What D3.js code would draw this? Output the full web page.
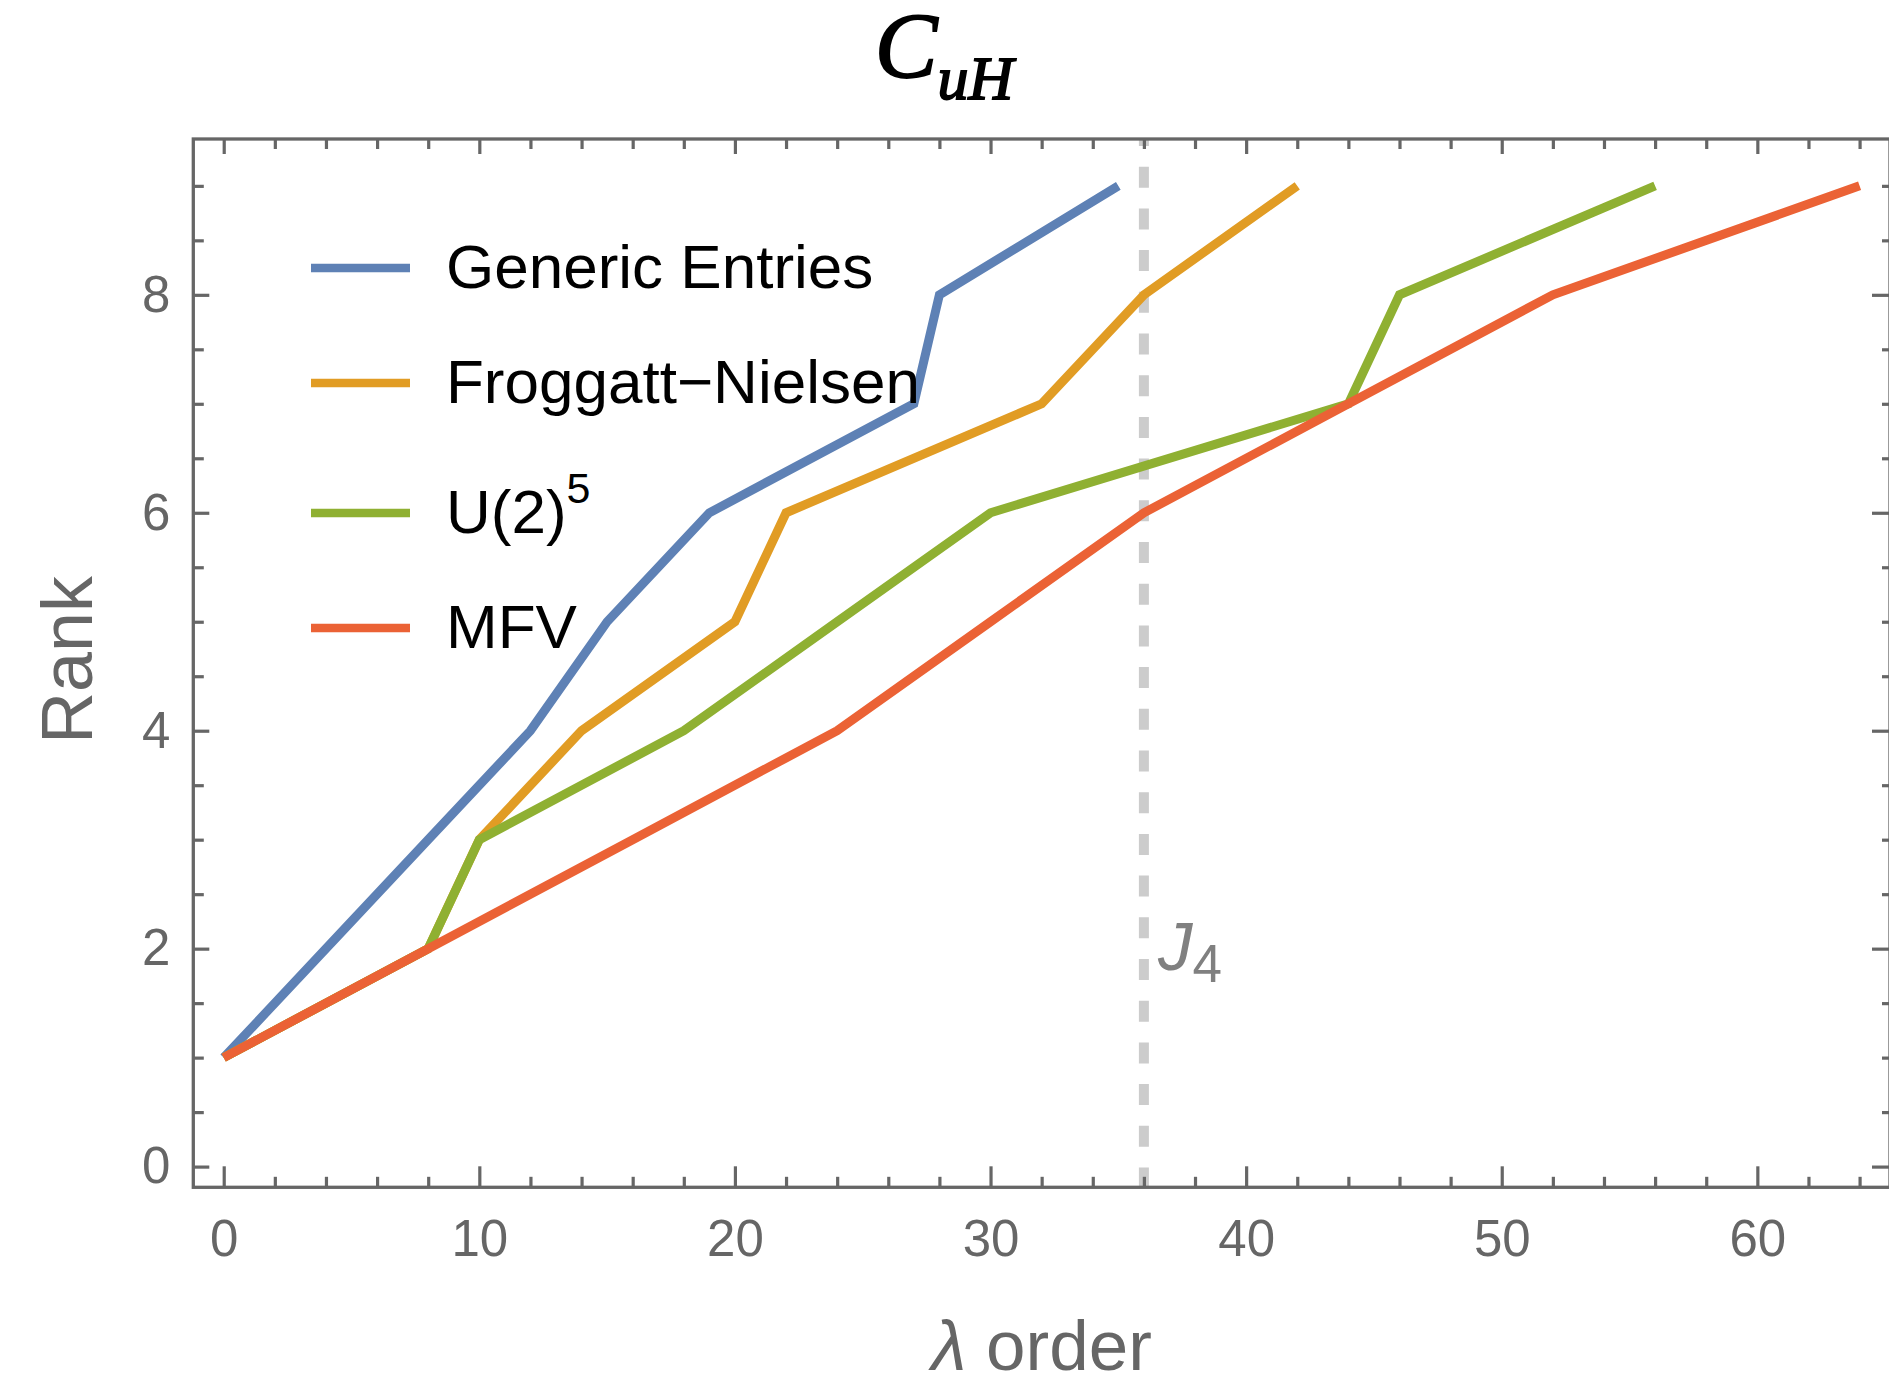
<!DOCTYPE html>
<html>
<head>
<meta charset="utf-8">
<script src="https://cdn.jsdelivr.net/npm/d3@7"></script>
<style>
  html, body { margin: 0; padding: 0; background: #fff; }
  svg { display: block; }
  text { font-family: "Liberation Sans", Arial, Helvetica, sans-serif; }
</style>
</head>
<body>
<svg id="chart" width="1889" height="1376"></svg>
<script>
// ---- data ----
const seriesNames = ["Generic Entries", "Froggatt\u2212Nielsen", "U(2)", "MFV"];
const seriesSup = ["", "", "5", ""];
const seriesColors = ["#5e81b5", "#e19c24", "#8fb032", "#eb6235"];
const ranks = [1, 2, 3, 4, 5, 6, 7, 8, 9];
const genericX = [0, 4, 8, 12, 15, 19, 27, 28, 35];
const froggattX = [0, 8, 10, 14, 20, 22, 32, 36, 42];
const u2X = [0, 8, 10, 18, 24, 30, 44, 46, 56];
const mfvX = [0, 8, 16, 24, 30, 36, 44, 52, 64];
const j4X = 36;
const xMajorTicks = [0, 10, 20, 30, 40, 50, 60];
const xMinorTicks = [2, 4, 6, 8, 12, 14, 16, 18, 22, 24, 26, 28, 32, 34, 36, 38, 42, 44, 46, 48, 52, 54, 56, 58, 62, 64];
const yMajorTicks = [0, 2, 4, 6, 8];
const yMinorTicks = [0.5, 1, 1.5, 2.5, 3, 3.5, 4.5, 5, 5.5, 6.5, 7, 7.5, 8.5, 9];

const seriesX = [genericX, froggattX, u2X, mfvX];

// ---- layout ----
const L = 193.3, R = 1890, T = 139, B = 1187.3;
const frameColor = "#666666";
const svg = d3.select("#chart");

const x = d3.scaleLinear().domain([-1.19, 65.19]).range([L, R]);
const y = d3.scaleLinear().domain([-0.19, 9.43]).range([B, T]);

svg.append("defs").append("clipPath").attr("id", "clip")
  .append("rect").attr("x", L).attr("y", T).attr("width", R - L).attr("height", B - T);

const plot = svg.append("g").attr("clip-path", "url(#clip)");

// J4 dashed line
plot.append("line")
  .attr("x1", x(j4X)).attr("x2", x(j4X))
  .attr("y1", T).attr("y2", B)
  .attr("stroke", "#cccccc").attr("stroke-width", 10)
  .attr("stroke-dasharray", "21 20.7").attr("stroke-dashoffset", 14);

const line = d3.line().x(d => x(d[0])).y(d => y(d[1]));
seriesX.forEach((xs, i) => {
  const pts = xs.map((v, k) => [v, ranks[k]]);
  plot.append("path")
    .attr("d", line(pts))
    .attr("fill", "none")
    .attr("stroke", seriesColors[i])
    .attr("stroke-width", 9)
    .attr("stroke-linejoin", "miter")
    .attr("stroke-linecap", "butt");
});

// ---- axes / frame ----
function styleAxis(g) {
  g.select(".domain").remove();
  g.selectAll(".tick line").attr("stroke", frameColor).attr("stroke-width", 3.2);
  g.selectAll(".tick text").attr("fill", frameColor)
    .style("font-family", '"Liberation Sans", Arial, Helvetica, sans-serif')
    .style("font-size", "51px");
}

// bottom
svg.append("g").attr("transform", `translate(0,${B})`)
  .call(d3.axisBottom(x).tickValues(xMinorTicks).tickSize(-10.5).tickFormat(""))
  .call(styleAxis);
svg.append("g").attr("transform", `translate(0,${B})`)
  .call(d3.axisBottom(x).tickValues(xMajorTicks).tickSize(-21).tickPadding(32).tickFormat(d3.format("d")))
  .call(styleAxis);
// top
svg.append("g").attr("transform", `translate(0,${T})`)
  .call(d3.axisTop(x).tickValues(xMinorTicks).tickSize(-10).tickFormat(""))
  .call(styleAxis);
svg.append("g").attr("transform", `translate(0,${T})`)
  .call(d3.axisTop(x).tickValues(xMajorTicks).tickSize(-15).tickFormat(""))
  .call(styleAxis);
// left
svg.append("g").attr("transform", `translate(${L},0)`)
  .call(d3.axisLeft(y).tickValues(yMinorTicks).tickSize(-10.5).tickFormat(""))
  .call(styleAxis);
svg.append("g").attr("transform", `translate(${L},0)`)
  .call(d3.axisLeft(y).tickValues(yMajorTicks).tickSize(-16).tickPadding(23).tickFormat(d3.format("d")))
  .call(styleAxis);
// right
svg.append("g").attr("transform", `translate(${R},0)`)
  .call(d3.axisRight(y).tickValues(yMinorTicks).tickSize(-8).tickFormat(""))
  .call(styleAxis);
svg.append("g").attr("transform", `translate(${R},0)`)
  .call(d3.axisRight(y).tickValues(yMajorTicks).tickSize(-18).tickFormat(""))
  .call(styleAxis);

svg.append("rect")
  .attr("x", L).attr("y", T).attr("width", R - L).attr("height", B - T)
  .attr("fill", "none").attr("stroke", frameColor).attr("stroke-width", 3.3);

// ---- J4 label ----
const j4 = svg.append("text")
  .attr("x", x(j4X) + 14).attr("y", 970)
  .attr("fill", "#808080")
  .style("font-size", "69px");
j4.append("tspan").attr("font-style", "italic").text("J");
j4.append("tspan").attr("dy", 12).style("font-size", "53px").text("4");

// ---- legend ----
const legendY = [268, 383, 513, 628];
seriesNames.forEach((name, i) => {
  svg.append("line")
    .attr("x1", 311).attr("x2", 410)
    .attr("y1", legendY[i]).attr("y2", legendY[i])
    .attr("stroke", seriesColors[i]).attr("stroke-width", 8.5);
  const t = svg.append("text")
    .attr("x", 446).attr("y", legendY[i] + 20)
    .attr("fill", "#000")
    .style("font-size", "62px");
  t.append("tspan").text(name);
  if (seriesSup[i]) {
    t.append("tspan").attr("dy", -30).style("font-size", "43px").text(seriesSup[i]);
  }
});

// ---- axis labels ----
svg.append("text")
  .attr("transform", "translate(92,660) rotate(-90)")
  .attr("text-anchor", "middle")
  .attr("fill", frameColor)
  .style("font-size", "72px")
  .text("Rank");

const xl = svg.append("text")
  .attr("x", (L + R) / 2).attr("y", 1370)
  .attr("text-anchor", "middle")
  .attr("fill", frameColor)
  .style("font-size", "71px");
xl.append("tspan").attr("font-style", "italic").text("\u03bb");
xl.append("tspan").text(" order");

// ---- title ----
const title = svg.append("text")
  .attr("x", 944).attr("y", 77)
  .attr("text-anchor", "middle")
  .attr("fill", "#000")
  .attr("stroke", "#000")
  .attr("stroke-width", 1.8)
  .style("font-family", '"Liberation Serif", "Times New Roman", serif')
  .style("font-style", "italic")
  .style("font-size", "94px");
title.append("tspan").text("C");
title.append("tspan").attr("dy", 22).style("font-size", "62px").text("uH");
</script>
</body>
</html>
